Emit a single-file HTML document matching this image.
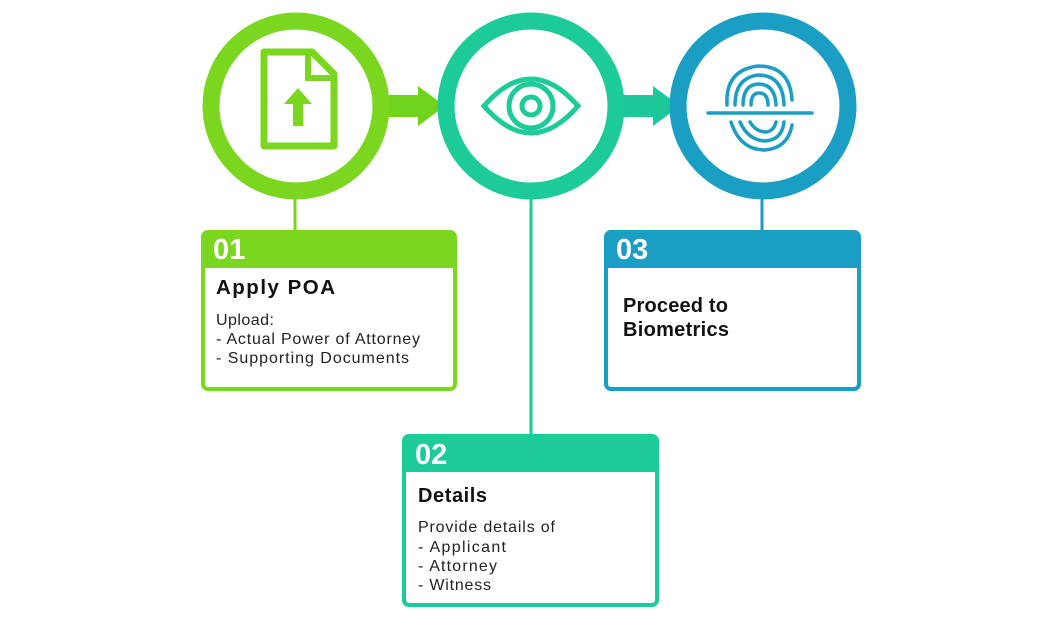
<!DOCTYPE html>
<html><head><style>body{margin:0;background:#fff}svg{display:block}text{font-family:"Liberation Sans",sans-serif}</style></head><body>
<svg width="1059" height="618" viewBox="0 0 1059 618">
<line x1="295" y1="195" x2="295" y2="232" stroke="#7ad61f" stroke-width="3"/>
<line x1="531" y1="195" x2="531" y2="436" stroke="#1ccb98" stroke-width="3"/>
<line x1="762" y1="195" x2="762" y2="232" stroke="#1a9ec3" stroke-width="3"/>
<rect x="380" y="95" width="40" height="22" fill="#6fd21c"/>
<polygon points="418,86 445,106 418,126" fill="#6fd21c"/>
<rect x="615" y="95" width="40" height="22" fill="#1cc89a"/>
<polygon points="653,86 680,106 653,126" fill="#1cc89a"/>
<circle cx="296" cy="106" r="85" fill="#fff" stroke="#7ad61f" stroke-width="17"/>
<circle cx="531" cy="106" r="85" fill="#fff" stroke="#1ccb98" stroke-width="17"/>
<circle cx="763" cy="106" r="85" fill="#fff" stroke="#1a9ec3" stroke-width="17"/>
<path d="M264,52 H312 L334,74 V146 H264 Z" fill="none" stroke="#7ad61f" stroke-width="7" stroke-linejoin="round"/>
<path d="M308,52 V78 H334" fill="none" stroke="#7ad61f" stroke-width="6"/>
<polygon points="298,88 284,104 293,104 293,126 303,126 303,104 312,104" fill="#7ad61f"/>
<path d="M484,106 Q531,52 578,106 Q531,160 484,106 Z" fill="none" stroke="#1ccb98" stroke-width="5"/>
<circle cx="531" cy="106" r="22" fill="none" stroke="#1ccb98" stroke-width="5"/>
<circle cx="531" cy="106" r="9" fill="none" stroke="#1ccb98" stroke-width="5"/>
<g fill="none" stroke="#1a9ec3" stroke-width="3.5" stroke-linecap="round">
<line x1="708" y1="113" x2="812" y2="113"/>
<path d="M727,105 Q725,70 758,66 Q790,66 792,100"/>
<path d="M735,105 Q735,78 758,75 Q783,75 784,105"/>
<path d="M743,105 Q743,85 758,84 Q775,84 776,105"/>
<path d="M751,105 Q751,93 759,93 Q768,93 768,105"/>
<path d="M731,122 Q740,150 765,150 Q788,148 792,125"/>
<path d="M740,122 Q748,140 765,141 Q782,140 784,122"/>
<path d="M750,122 Q756,132 766,132 Q774,131 776,122"/>
</g>
<rect x="203" y="232" width="252" height="157" rx="5" fill="#fff" stroke="#7ad61f" stroke-width="4"/>
<path d="M203,268 V237 Q203,232 208,232 H450 Q455,232 455,237 V268 Z" fill="#7ad61f"/>
<rect x="606" y="232" width="253" height="157" rx="5" fill="#fff" stroke="#1a9ec3" stroke-width="4"/>
<path d="M606,268 V237 Q606,232 611,232 H854 Q859,232 859,237 V268 Z" fill="#1a9ec3"/>
<rect x="404" y="436" width="253" height="169" rx="5" fill="#fff" stroke="#1ccb98" stroke-width="4"/>
<path d="M404,472 V441 Q404,436 409,436 H652 Q657,436 657,441 V472 Z" fill="#1ccb98"/>
<text x="213" y="259" font-size="29" font-weight="bold" fill="#fff">01</text>
<text x="616" y="259" font-size="29" font-weight="bold" fill="#fff">03</text>
<text x="415" y="464" font-size="29" font-weight="bold" fill="#fff">02</text>
<text x="216" y="294" font-size="20.5" font-weight="bold" fill="#111" textLength="119">Apply POA</text>
<g font-size="16" fill="#222">
<text x="216" y="325" textLength="58">Upload:</text>
<text x="216" y="344" textLength="204">- Actual Power of Attorney</text>
<text x="216" y="363" textLength="193">- Supporting Documents</text>
</g>
<text x="623" y="312" font-size="20" font-weight="bold" fill="#111" textLength="105">Proceed to</text>
<text x="623" y="336" font-size="20" font-weight="bold" fill="#111" textLength="106">Biometrics</text>
<text x="418" y="502" font-size="20" font-weight="bold" fill="#111" textLength="69">Details</text>
<g font-size="16" fill="#222">
<text x="418" y="532" textLength="137">Provide details of</text>
<text x="418" y="552" textLength="88">- Applicant</text>
<text x="418" y="571" textLength="79">- Attorney</text>
<text x="418" y="590" textLength="73">- Witness</text>
</g>
</svg>
</body></html>
